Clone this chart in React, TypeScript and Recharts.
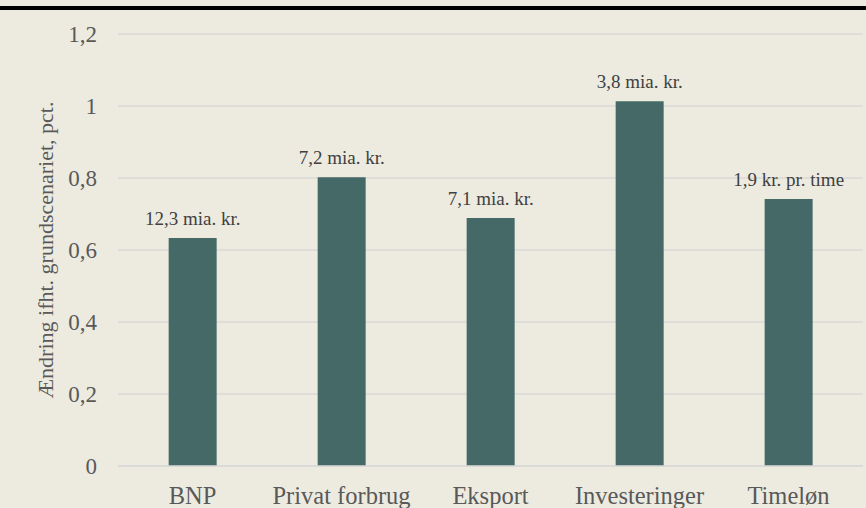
import { BarChart, Bar, XAxis, YAxis, CartesianGrid, LabelList } from "recharts";

const categories = ["BNP", "Privat forbrug", "Eksport", "Investeringer", "Timeløn"];
const changes = [0.633, 0.802, 0.689, 1.013, 0.742];
const valueLabels = ["12,3 mia. kr.", "7,2 mia. kr.", "7,1 mia. kr.", "3,8 mia. kr.", "1,9 kr. pr. time"];
const yTicks = [0, 0.2, 0.4, 0.6, 0.8, 1, 1.2];

const FONT = "'Liberation Serif', serif";
const TEXT = "#595959";

const data = categories.map((name, i) => ({
  name,
  value: changes[i],
  label: valueLabels[i],
}));

const fmt = (v: number) => String(v).replace(".", ",");

function XTick({ x, y, payload }: any) {
  return (
    <text x={x} y={y + 38} textAnchor="middle" fill={TEXT} fontSize={24.5} fontFamily={FONT}>
      {payload.value}
    </text>
  );
}

function YTick({ x, y, payload }: any) {
  return (
    <text x={x} y={y + 8} textAnchor="end" fill={TEXT} fontSize={23} fontFamily={FONT}>
      {fmt(payload.value)}
    </text>
  );
}

function TopLabel({ x, y, width, value }: any) {
  return (
    <text x={x + width / 2} y={y - 13} textAnchor="middle" fill="#404040" fontSize={19} fontFamily={FONT}>
      {value}
    </text>
  );
}

export default function App() {
  return (
    <div
      style={{
        position: "fixed",
        left: 0,
        top: 0,
        width: 866,
        height: 508,
        background: "#EDEBE0",
        fontFamily: FONT,
        overflow: "hidden",
      }}
    >
      <div style={{ position: "absolute", left: 0, top: 6, width: 866, height: 4, background: "#000" }} />
      <BarChart
        width={866}
        height={508}
        data={data}
        margin={{ top: 34, right: 3, bottom: 0, left: 0 }}
        barCategoryGap="34%"
      >
        <CartesianGrid vertical={false} stroke="#D9D9D9" strokeWidth={1.5} />
        <XAxis
          dataKey="name"
          height={42}
          axisLine={{ stroke: "#D9D9D9", strokeWidth: 1.5 }}
          tickLine={false}
          tickSize={0}
          tickMargin={0}
          tick={<XTick />}
          interval={0}
        />
        <YAxis
          width={118}
          domain={[0, 1.2]}
          ticks={yTicks}
          axisLine={false}
          tickLine={false}
          tickSize={0}
          tickMargin={21}
          tick={<YTick />}
          label={{
            value: "Ændring ifht. grundscenariet, pct.",
            angle: -90,
            position: "insideLeft",
            dx: 40,
            fill: TEXT,
            fontSize: 22,
            fontFamily: FONT,
            style: { textAnchor: "middle" },
          }}
        />
        <Bar dataKey="value" fill="#456966" isAnimationActive={false}>
          <LabelList dataKey="label" content={<TopLabel />} />
        </Bar>
      </BarChart>
    </div>
  );
}
